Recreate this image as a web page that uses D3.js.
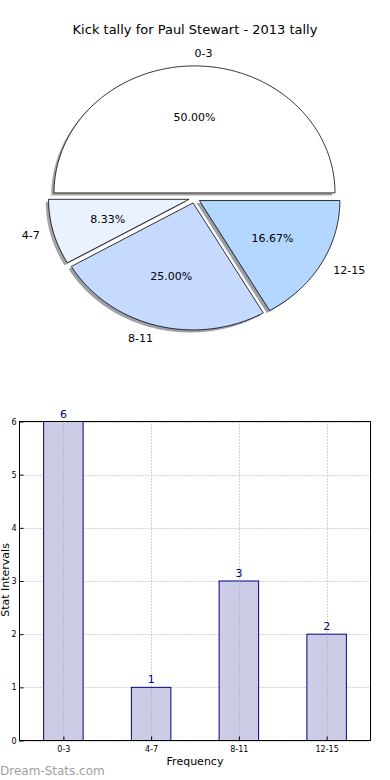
<!DOCTYPE html>
<html lang="en">
<head>
  <meta charset="UTF-8">
  <title>Kick tally</title>
  <style>
    body { margin: 0; background: #fff; }
    svg { display: block; font-family: "DejaVu Sans", sans-serif; }
  </style>
</head>
<body>
  <svg id="svg" width="390" height="780"></svg>

  <script src="https://d3js.org/d3.v7.min.js"></script>
  <script>
    // data
    const categories = ['0-3', '4-7', '8-11', '12-15']
    const counts = [6, 1, 3, 2]
    const yTicks = [0, 1, 2, 3, 4, 5, 6]
    const sliceColors = ['#ffffff', '#eaf2ff', '#c6d9ff', '#b3d7ff']

    const svg = d3.select('#svg')

    // title
    svg.append('text')
      .attr('x', 195).attr('y', 34)
      .attr('text-anchor', 'middle')
      .attr('font-size', 13)
      .text('Kick tally for Paul Stewart - 2013 tally')

    // ---- pie (squashed, like matplotlib without equal aspect) ----
    const cx = 194.5, cy = 198, rx = 140.5, ry = 127
    const explode = 0.04
    const total = d3.sum(counts)

    // angles counter-clockwise from 3 o'clock, in degrees
    let start = 0
    const slices = counts.map((v, i) => {
      const a0 = start
      const a1 = start + 360 * v / total
      start = a1
      return { cat: categories[i], v, a0, a1, mid: (a0 + a1) / 2, color: sliceColors[i] }
    })

    const rad = a => a * Math.PI / 180
    // point on the unit pie -> screen
    const pt = (a, r, ox, oy) => [ox + r * rx * Math.cos(rad(a)), oy - r * ry * Math.sin(rad(a))]

    function wedgePath(s, ox, oy) {
      const pts = [[ox, oy]]
      const n = Math.max(8, Math.round(s.a1 - s.a0))
      for (let k = 0; k <= n; k++) {
        pts.push(pt(s.a0 + (s.a1 - s.a0) * k / n, 1, ox, oy))
      }
      return d3.line()(pts) + 'Z'
    }

    slices.forEach(s => {
      s.ox = cx + explode * rx * Math.cos(rad(s.mid))
      s.oy = cy - explode * ry * Math.sin(rad(s.mid))
    })

    // shadows first
    svg.append('g').selectAll('path')
      .data(slices)
      .join('path')
      .attr('d', s => wedgePath(s, s.ox - 0.02 * rx, s.oy + 0.02 * ry))
      .attr('fill', s => {
        const c = d3.rgb(s.color)
        return d3.rgb(c.r * 0.3, c.g * 0.3, c.b * 0.3)
      })
      .attr('fill-opacity', 0.5)

    svg.append('g').selectAll('path')
      .data(slices)
      .join('path')
      .attr('d', s => wedgePath(s, s.ox, s.oy))
      .attr('fill', s => s.color)
      .attr('stroke', '#000')
      .attr('stroke-width', 0.8)
      .attr('stroke-linejoin', 'round')

    // category labels at 1.1 radius
    svg.append('g').selectAll('text')
      .data(slices)
      .join('text')
      .attr('x', s => pt(s.mid, 1.1, s.ox, s.oy)[0])
      .attr('y', s => pt(s.mid, 1.1, s.ox, s.oy)[1])
      .attr('dy', '0.35em')
      .attr('text-anchor', s => Math.cos(rad(s.mid)) >= -1e-9 ? 'start' : 'end')
      .attr('font-size', 11)
      .text(s => s.cat)

    // percentages at 0.6 radius
    svg.append('g').selectAll('text')
      .data(slices)
      .join('text')
      .attr('x', s => pt(s.mid, 0.6, s.ox, s.oy)[0])
      .attr('y', s => pt(s.mid, 0.6, s.ox, s.oy)[1])
      .attr('dy', '0.35em')
      .attr('text-anchor', 'middle')
      .attr('font-size', 11)
      .text(s => d3.format('.2f')(100 * s.v / total) + '%')

    // ---- bar chart ----
    const plotL = 19.5, plotR = 370.5, plotT = 421.5, plotB = 740.5
    const x = d3.scaleLinear().domain([0, categories.length]).range([plotL, plotR])
    const y = d3.scaleLinear().domain([0, 6]).range([plotB, plotT])
    const barW = 0.45

    const grid = svg.append('g')
      .attr('stroke', '#a8a8a8')
      .attr('stroke-width', 1)
      .attr('stroke-dasharray', '1,2')
    grid.selectAll('line')
      .data(yTicks)
      .join('line')
      .attr('x1', plotL).attr('x2', plotR)
      .attr('y1', d => Math.round(y(d)) + 0.5).attr('y2', d => Math.round(y(d)) + 0.5)

    svg.append('g').selectAll('rect')
      .data(counts)
      .join('rect')
      .attr('x', (d, i) => x(i + 0.5 - barW / 2))
      .attr('width', x(barW) - x(0))
      .attr('y', d => y(d))
      .attr('height', d => y(0) - y(d))
      .attr('fill', '#ccccE6')
      .attr('stroke', '#000080')
      .attr('stroke-width', 1)

    // vertical grid drawn over bars (as in the reference)
    const gridX = svg.append('g')
      .attr('stroke', '#a8a8a8')
      .attr('stroke-width', 1)
      .attr('stroke-dasharray', '1,2')
    gridX.selectAll('line')
      .data(categories)
      .join('line')
      .attr('x1', (d, i) => Math.round(x(i + 0.5)) + 0.5)
      .attr('x2', (d, i) => Math.round(x(i + 0.5)) + 0.5)
      .attr('y1', plotT).attr('y2', plotB)

    // frame
    svg.append('rect')
      .attr('x', plotL).attr('y', plotT)
      .attr('width', plotR - plotL).attr('height', plotB - plotT)
      .attr('fill', 'none')
      .attr('stroke', '#000')
      .attr('stroke-width', 1)

    // axes
    const yAxis = d3.axisLeft(y).tickValues(yTicks).tickSize(-4).tickPadding(3).tickFormat(d3.format('d'))
    svg.append('g')
      .attr('transform', `translate(${plotL},0)`)
      .call(yAxis)
      .call(g => g.select('.domain').remove())
      .call(g => g.selectAll('text').attr('font-size', 8).attr('font-family', 'DejaVu Sans'))

    const xAxis = d3.axisBottom(x)
      .tickValues(categories.map((d, i) => i + 0.5))
      .tickSize(-4).tickPadding(6)
      .tickFormat((d, i) => categories[i])
    svg.append('g')
      .attr('transform', `translate(0,${plotB})`)
      .call(xAxis)
      .call(g => g.select('.domain').remove())
      .call(g => g.selectAll('text').attr('font-size', 8).attr('font-family', 'DejaVu Sans'))

    // value labels
    svg.append('g').selectAll('text')
      .data(counts)
      .join('text')
      .attr('x', (d, i) => x(i + 0.5))
      .attr('y', d => y(d) - 4)
      .attr('text-anchor', 'middle')
      .attr('font-size', 11)
      .attr('fill', '#000080')
      .text(d => d)

    // axis titles
    svg.append('text')
      .attr('x', 195).attr('y', 765)
      .attr('text-anchor', 'middle')
      .attr('font-size', 11)
      .text('Frequency')

    svg.append('text')
      .attr('transform', 'translate(9,580) rotate(-90)')
      .attr('text-anchor', 'middle')
      .attr('font-size', 11)
      .text('Stat Intervals')

    // watermark
    svg.append('text')
      .attr('x', 0).attr('y', 775)
      .attr('font-size', 12)
      .attr('fill', '#a0a0a0')
      .text('Dream-Stats.com')
  </script>
</body>
</html>
